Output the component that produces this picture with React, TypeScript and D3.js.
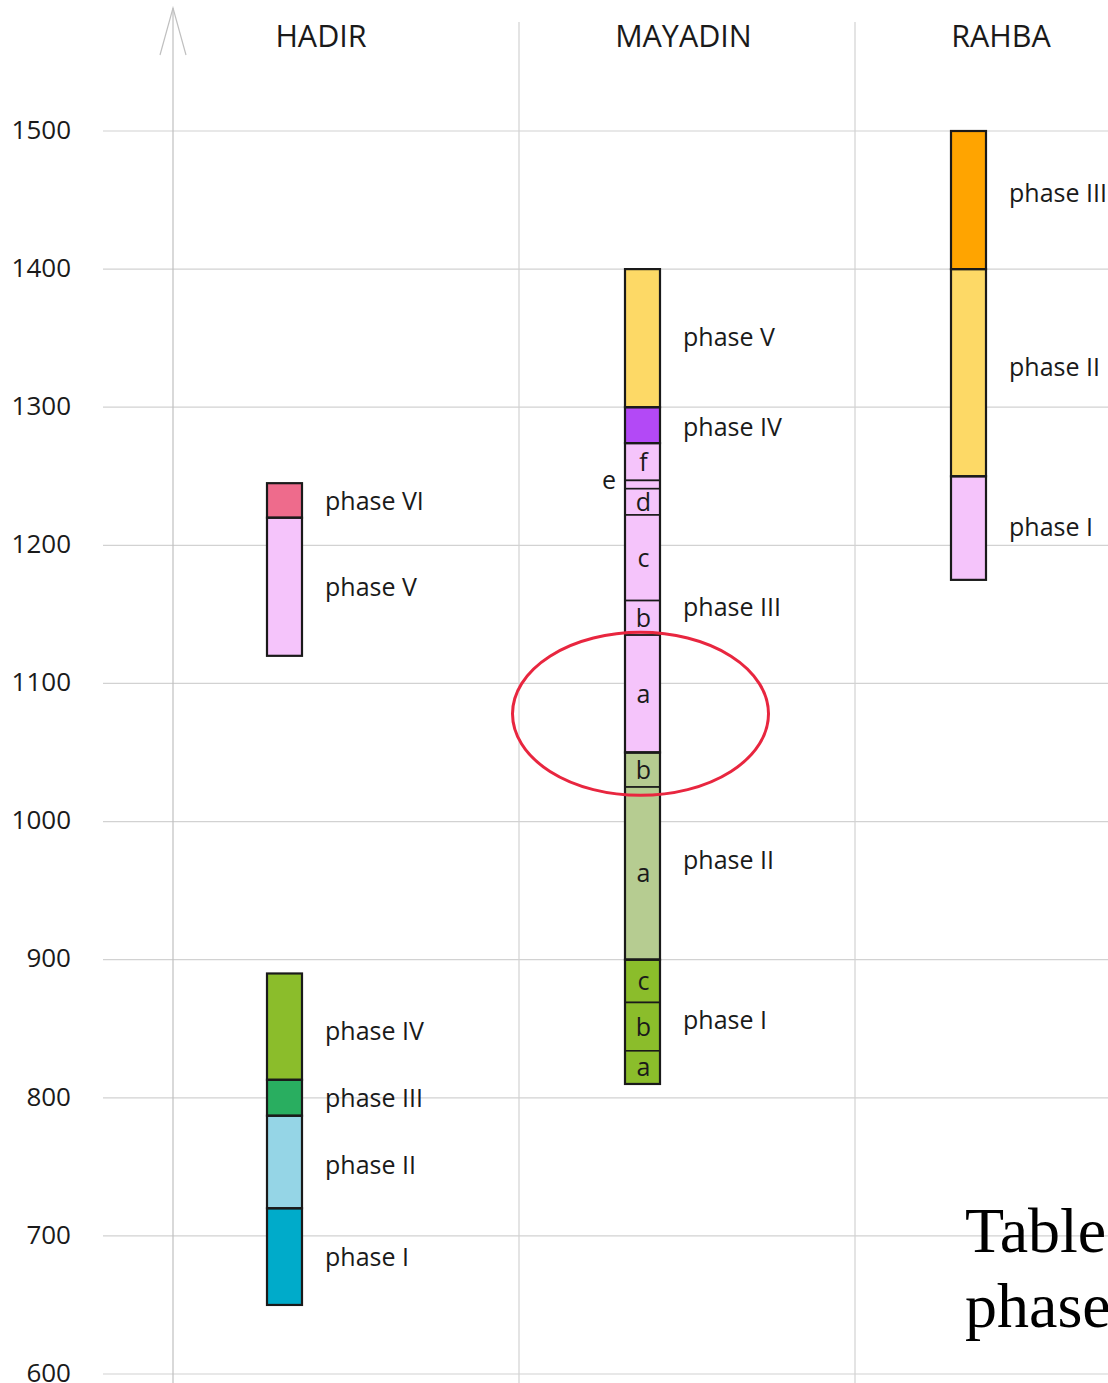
import React from "react";
import * as d3 from "d3";

// sites and the year axis
const sites = ["HADIR", "MAYADIN", "RAHBA"];
const yearTicks = [600, 700, 800, 900, 1000, 1100, 1200, 1300, 1400, 1500];

// phases per site: start / end year, labelYear = where the label sits
const hadirPhases = [
  { name: "phase VI", start: 1220, end: 1245, labelYear: 1232 },
  { name: "phase V", start: 1120, end: 1220, labelYear: 1170 },
  { name: "phase IV", start: 813, end: 890, labelYear: 848 },
  { name: "phase III", start: 787, end: 813, labelYear: 800 },
  { name: "phase II", start: 720, end: 787, labelYear: 751 },
  { name: "phase I", start: 650, end: 720, labelYear: 685 },
];
const mayadinPhases = [
  { name: "phase V", start: 1300, end: 1400, labelYear: 1351 },
  { name: "phase IV", start: 1274, end: 1300, labelYear: 1286 },
  { name: "phase III", start: 1050, end: 1274, labelYear: 1155 },
  { name: "phase II", start: 900, end: 1050, labelYear: 972 },
  { name: "phase I", start: 810, end: 900, labelYear: 856 },
];
const rahbaPhases = [
  { name: "phase III", start: 1400, end: 1500, labelYear: 1455 },
  { name: "phase II", start: 1250, end: 1400, labelYear: 1329 },
  { name: "phase I", start: 1175, end: 1250, labelYear: 1213 },
];

// sub-phases of Mayadin
const mayadinSubphases = [
  { phase: "phase III", name: "f", start: 1247, end: 1274 },
  { phase: "phase III", name: "e", start: 1241, end: 1247 },
  { phase: "phase III", name: "d", start: 1222, end: 1241 },
  { phase: "phase III", name: "c", start: 1160, end: 1222 },
  { phase: "phase III", name: "b", start: 1135, end: 1160 },
  { phase: "phase III", name: "a", start: 1050, end: 1135 },
  { phase: "phase II", name: "b", start: 1025, end: 1050 },
  { phase: "phase II", name: "a", start: 900, end: 1025 },
  { phase: "phase I", name: "c", start: 869, end: 900 },
  { phase: "phase I", name: "b", start: 834, end: 869 },
  { phase: "phase I", name: "a", start: 810, end: 834 },
];

// circled area
const highlight = { site: "MAYADIN", start: 1019, end: 1137 };

const colors: Record<string, string> = {
  "HADIR phase VI": "#ee6b8c",
  "HADIR phase V": "#f5c4fb",
  "HADIR phase IV": "#8bbd2b",
  "HADIR phase III": "#29ae60",
  "HADIR phase II": "#95d5e6",
  "HADIR phase I": "#00abca",
  "MAYADIN phase V": "#fdd966",
  "MAYADIN phase IV": "#b349f6",
  "MAYADIN phase III": "#f5c4fb",
  "MAYADIN phase II": "#b6cc91",
  "MAYADIN phase I": "#8bbd2b",
  "RAHBA phase III": "#ffa400",
  "RAHBA phase II": "#fdd966",
  "RAHBA phase I": "#f5c4fb",
};

const W = 1108;
const H = 1383;
const font = "'Open Sans', sans-serif";
const serif = "'Liberation Serif', 'Times New Roman', serif";

const App = () => {
  const y = d3.scaleLinear().domain([600, 1500]).range([1374, 131]);
  // column edges, bar centres, header centres
  const xCol = d3.scaleOrdinal<string, number>().domain(sites).range([173, 519, 855]);
  const xBar = d3.scaleOrdinal<string, number>().domain(sites).range([284.5, 642.5, 968.5]);
  const xHead = d3.scaleOrdinal<string, number>().domain(sites).range([321, 683.5, 1001]);
  const barW = 35;

  const phasesBySite: Record<string, typeof hadirPhases> = {
    HADIR: hadirPhases,
    MAYADIN: mayadinPhases,
    RAHBA: rahbaPhases,
  };

  return (
    <div style={{ position: "absolute", left: 0, top: 0 }}>
      <svg width={W} height={H} style={{ display: "block", background: "#fff" }}>
        {/* horizontal grid + tick labels */}
        {yearTicks.map((t) => (
          <g key={t}>
            <line x1={103} x2={W} y1={y(t)} y2={y(t)} stroke="#d2d2d2" strokeWidth={1.2} />
            <text
              x={71}
              y={y(t)}
              dy="0.3em"
              textAnchor="end"
              fontFamily={font}
              fontSize={26}
              fill="#1a1a1a"
            >
              {t}
            </text>
          </g>
        ))}

        {/* column separators */}
        {sites.slice(1).map((s) => (
          <line key={s} x1={xCol(s)} x2={xCol(s)} y1={22} y2={H} stroke="#d2d2d2" strokeWidth={1.2} />
        ))}

        {/* vertical axis with arrow */}
        <line x1={xCol("HADIR")} x2={xCol("HADIR")} y1={8} y2={H} stroke="#c0c0c0" strokeWidth={1.2} />
        <polyline
          points={`${xCol("HADIR") - 13},55 ${xCol("HADIR")},8 ${xCol("HADIR") + 13},55`}
          fill="none"
          stroke="#c0c0c0"
          strokeWidth={1.2}
        />

        {/* headers */}
        {sites.map((s) => (
          <text
            key={s}
            x={xHead(s)}
            y={47}
            textAnchor="middle"
            fontFamily={font}
            fontSize={30.5}
            fill="#1a1a1a"
          >
            {s}
          </text>
        ))}

        {/* bars */}
        {sites.map((s) => {
          const x0 = xBar(s) - barW / 2;
          const phases = phasesBySite[s];
          const subs = s === "MAYADIN" ? mayadinSubphases : [];
          return (
            <g key={s}>
              {phases.map((p) => (
                <rect
                  key={p.name}
                  x={x0}
                  y={y(p.end)}
                  width={barW}
                  height={y(p.start) - y(p.end)}
                  fill={colors[`${s} ${p.name}`]}
                  stroke="none"
                />
              ))}
              {subs.map((d, i) => (
                <g key={i}>
                  <rect
                    x={x0}
                    y={y(d.end)}
                    width={barW}
                    height={y(d.start) - y(d.end)}
                    fill={colors[`${s} ${d.phase}`]}
                    stroke="#1a1a1a"
                    strokeWidth={1.6}
                  />
                  <text
                    x={d.name === "e" ? x0 - 16 : xBar(s) + 1}
                    y={d.name === "e" ? y(d.end) : (y(d.start) + y(d.end)) / 2}
                    dy="0.36em"
                    textAnchor="middle"
                    fontFamily={font}
                    fontSize={25}
                    fill="#1a1a1a"
                  >
                    {d.name}
                  </text>
                </g>
              ))}
              {phases.map((p) => (
                <rect
                  key={p.name + "o"}
                  x={x0}
                  y={y(p.end)}
                  width={barW}
                  height={y(p.start) - y(p.end)}
                  fill="none"
                  stroke="#1a1a1a"
                  strokeWidth={2.2}
                />
              ))}
              {phases.map((p) => (
                <text
                  key={p.name + "l"}
                  x={x0 + barW + 23}
                  y={y(p.labelYear)}
                  dy="0.36em"
                  fontFamily={font}
                  fontSize={25}
                  fill="#1a1a1a"
                >
                  {p.name}
                </text>
              ))}
            </g>
          );
        })}

        {/* red circle annotation */}
        <ellipse
          cx={xBar(highlight.site) - 2}
          cy={(y(highlight.start) + y(highlight.end)) / 2}
          rx={128}
          ry={(y(highlight.start) - y(highlight.end)) / 2}
          fill="none"
          stroke="#e8263f"
          strokeWidth={3}
        />

        {/* caption fragment */}
        <text x={965} y={1252} fontFamily={serif} fontSize={64} fill="#000">
          Table
        </text>
        <text x={965} y={1327} fontFamily={serif} fontSize={64} fill="#000">
          phase
        </text>
      </svg>
    </div>
  );
};

export default App;
